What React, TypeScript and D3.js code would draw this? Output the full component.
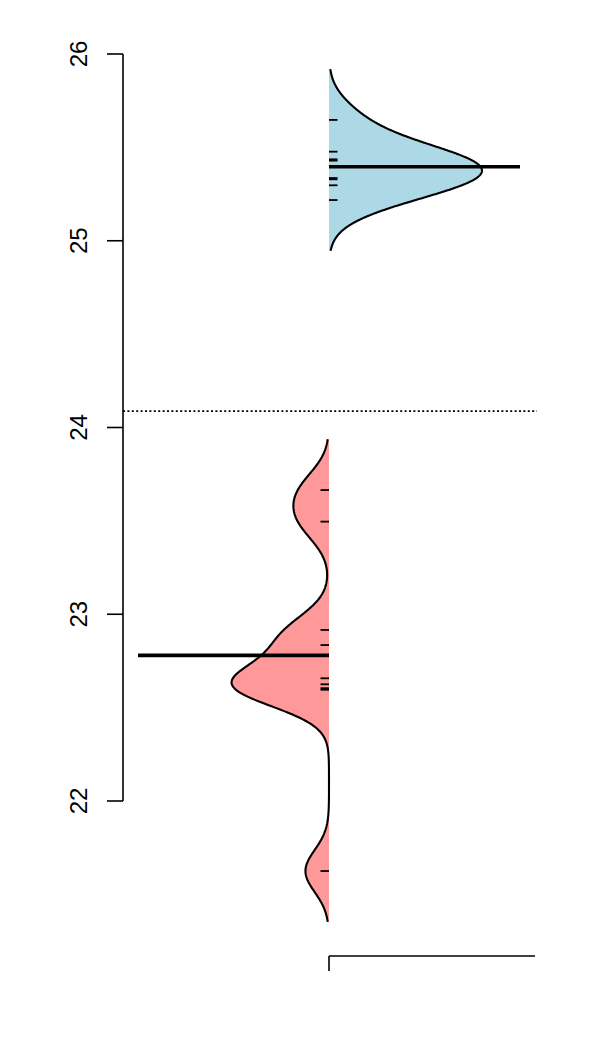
import React from "react";
import * as d3 from "d3";

// ---- data ----
const beanNames = ["upper", "lower"];
const upperValues = [25.647, 25.477, 25.436, 25.429, 25.395, 25.336, 25.329, 25.297, 25.218];
const lowerValues = [23.665, 23.496, 22.916, 22.835, 22.657, 22.625, 22.604, 22.596, 21.625];
const yTickValues = [22, 23, 24, 25, 26];
const beanColors = ["#ADD8E6", "#FF9999"];

const W = 598;
const H = 1050;
const plotLeft = 123;
const plotRight = 537;
const bandwidth = 0.113;
const cutExt = 0.272;
const maxHalfWidth = 153;
const meanLineLen = 191;
const dataTickLen = 8.5;

function gauss(u: number) {
  return Math.exp(-0.5 * u * u) / Math.sqrt(2 * Math.PI);
}
function density(vals: number[], x: number) {
  let s = 0;
  for (const v of vals) s += gauss((x - v) / bandwidth);
  return s / (vals.length * bandwidth);
}

export default function App() {
  const y = d3.scaleLinear().domain([22, 26]).range([801, 54]);
  const x = d3.scaleLinear().domain([0.5, 1.5]).range([plotLeft, plotRight]);
  const cx = x(1) - 1;

  const beans = [upperValues, lowerValues].map((vals, i) => {
    const lo = d3.min(vals)! - cutExt;
    const hi = d3.max(vals)! + cutExt;
    const grid = d3.range(0, 301).map((k) => lo + ((hi - lo) * k) / 300);
    const pts = grid.map((g) => ({ v: g, d: density(vals, g) }));
    return { vals, pts, side: i === 0 ? 1 : -1, color: beanColors[i], name: beanNames[i] };
  });
  const maxD = d3.max(beans, (b) => d3.max(b.pts, (p) => p.d))!;
  const wScale = d3.scaleLinear().domain([0, maxD]).range([0, maxHalfWidth]);

  const allVals = [...upperValues, ...lowerValues];
  const grand = d3.mean(allVals)!;

  return (
    <svg
      width={W}
      height={H}
      style={{ position: "absolute", left: 0, top: 0, background: "#fff" }}
      fontFamily="'Liberation Sans', Arial, Helvetica, sans-serif"
    >
      {beans.map((b) => {
        const line = d3
          .line<{ v: number; d: number }>()
          .x((p) => cx + b.side * wScale(p.d))
          .y((p) => y(p.v));
        const area = d3
          .area<{ v: number; d: number }>()
          .y((p) => y(p.v))
          .x0(cx)
          .x1((p) => cx + b.side * wScale(p.d));
        const m = d3.mean(b.vals)!;
        return (
          <g key={b.name}>
            <path d={area(b.pts)!} fill={b.color} stroke="none" />
            <path d={line(b.pts)!} fill="none" stroke="#000" strokeWidth={2.1} />
            {b.vals.map((v, k) => (
              <line
                key={k}
                x1={cx}
                x2={cx + b.side * dataTickLen}
                y1={y(v)}
                y2={y(v)}
                stroke="#000"
                strokeWidth={1.8}
              />
            ))}
            <line
              x1={cx}
              x2={cx + b.side * meanLineLen}
              y1={y(m)}
              y2={y(m)}
              stroke="#000"
              strokeWidth={3.6}
            />
          </g>
        );
      })}

      {/* overall mean */}
      <line
        x1={plotLeft}
        x2={plotRight}
        y1={y(grand)}
        y2={y(grand)}
        stroke="#000"
        strokeWidth={1.6}
        strokeDasharray="2,2.4"
      />

      {/* y axis */}
      <line x1={plotLeft} x2={plotLeft} y1={y(26)} y2={y(22)} stroke="#000" strokeWidth={1.6} />
      {yTickValues.map((t) => (
        <g key={t}>
          <line x1={plotLeft - 16} x2={plotLeft} y1={y(t)} y2={y(t)} stroke="#000" strokeWidth={1.6} />
          <text
            transform={`translate(87,${y(t)}) rotate(-90)`}
            textAnchor="middle"
            fontSize={24}
            fill="#000"
          >
            {t}
          </text>
        </g>
      ))}

      {/* x axis */}
      <line x1={cx} x2={plotRight - 2} y1={956} y2={956} stroke="#000" strokeWidth={1.6} />
      <line x1={cx} x2={cx} y1={956} y2={971} stroke="#000" strokeWidth={1.6} />
    </svg>
  );
}
